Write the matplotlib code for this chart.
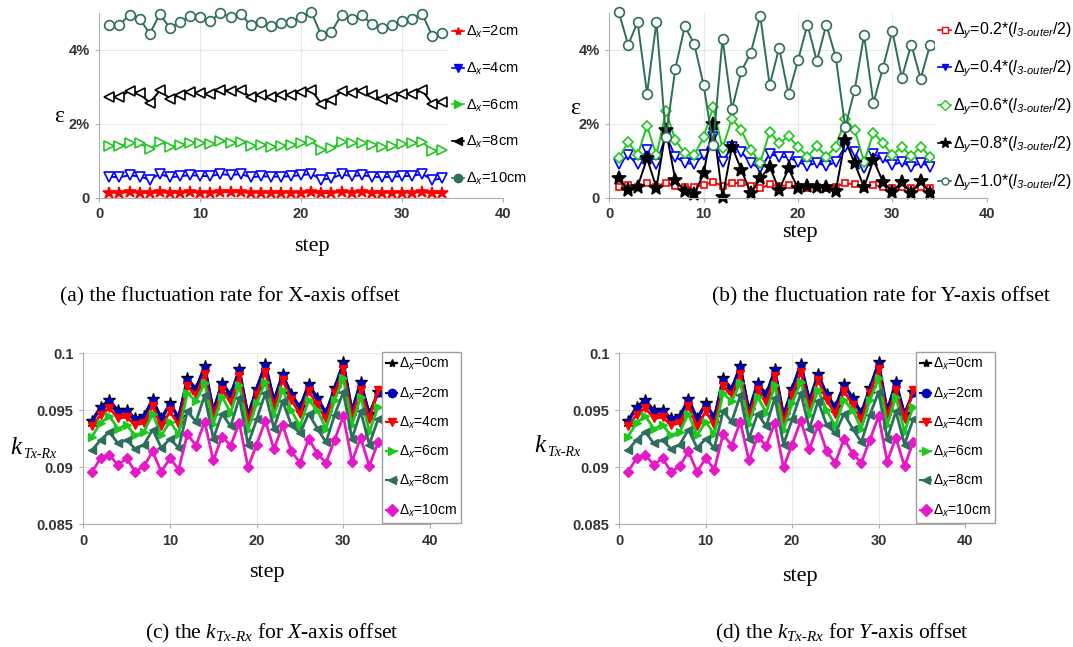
import numpy as np
import matplotlib.pyplot as plt
from matplotlib.lines import Line2D

plt.rcParams['font.family'] = 'Liberation Sans'
plt.rcParams['mathtext.fontset'] = 'custom'
plt.rcParams['mathtext.rm'] = 'Liberation Serif'
plt.rcParams['mathtext.it'] = 'Liberation Serif:italic'
plt.rcParams['mathtext.sf'] = 'Liberation Sans:italic'
plt.rcParams['mathtext.bf'] = 'Liberation Serif:bold'

W, H = 1073, 647

pasos = np.arange(1, 35)

# (a) fluctuation rate, X-axis offset (in %)
eps_x2 = [0.14, 0.13, 0.15, 0.14, 0.12, 0.15, 0.13, 0.14, 0.15, 0.14, 0.14, 0.15,
          0.15, 0.15, 0.13, 0.14, 0.13, 0.14, 0.14, 0.14, 0.15, 0.12, 0.13, 0.15,
          0.14, 0.15, 0.14, 0.13, 0.14, 0.14, 0.14, 0.15, 0.12, 0.13]
eps_x4 = [0.57, 0.55, 0.61, 0.57, 0.49, 0.64, 0.55, 0.58, 0.61, 0.59, 0.58, 0.64,
          0.61, 0.64, 0.55, 0.58, 0.57, 0.57, 0.58, 0.61, 0.64, 0.49, 0.52, 0.63,
          0.58, 0.61, 0.57, 0.55, 0.57, 0.58, 0.59, 0.64, 0.48, 0.52]
eps_x6 = [1.40, 1.40, 1.49, 1.47, 1.31, 1.51, 1.38, 1.42, 1.48, 1.47, 1.45, 1.54,
          1.49, 1.51, 1.40, 1.42, 1.38, 1.40, 1.42, 1.47, 1.54, 1.29, 1.33, 1.51,
          1.47, 1.49, 1.42, 1.38, 1.40, 1.45, 1.47, 1.51, 1.27, 1.30]
eps_x8 = [2.72, 2.72, 2.89, 2.83, 2.56, 2.90, 2.68, 2.77, 2.86, 2.83, 2.81, 2.92,
          2.89, 2.92, 2.72, 2.77, 2.71, 2.77, 2.77, 2.86, 2.92, 2.54, 2.63, 2.89,
          2.83, 2.89, 2.77, 2.68, 2.72, 2.80, 2.81, 2.90, 2.53, 2.59]
eps_x10 = [4.68, 4.67, 4.95, 4.84, 4.43, 4.97, 4.58, 4.75, 4.91, 4.88, 4.77, 5.00,
           4.88, 4.97, 4.66, 4.75, 4.63, 4.72, 4.75, 4.88, 5.02, 4.39, 4.48, 4.95,
           4.84, 4.93, 4.70, 4.59, 4.68, 4.77, 4.84, 4.97, 4.36, 4.45]

# (b) fluctuation rate, Y-axis offset (in %)
eps_y02 = [0.28, 0.34, 0.30, 0.39, 0.30, 0.41, 0.32, 0.30, 0.28, 0.34, 0.43, 0.31,
           0.40, 0.39, 0.31, 0.25, 0.36, 0.31, 0.34, 0.30, 0.25, 0.28, 0.25, 0.30,
           0.39, 0.36, 0.25, 0.34, 0.30, 0.27, 0.28, 0.25, 0.28, 0.25]
eps_y04 = [0.91, 1.15, 0.90, 1.29, 0.91, 1.69, 1.11, 0.94, 0.91, 1.15, 1.63, 0.97,
           1.38, 1.24, 0.93, 0.79, 1.18, 1.11, 1.09, 0.97, 0.86, 0.95, 0.85, 0.97,
           1.38, 1.24, 0.79, 1.18, 1.06, 0.88, 0.97, 0.82, 0.95, 0.84]
eps_y06 = [1.06, 1.51, 1.15, 1.94, 1.15, 2.34, 1.56, 1.20, 1.15, 1.64, 2.45, 1.33,
           2.14, 1.82, 1.29, 0.95, 1.78, 1.47, 1.66, 1.38, 1.11, 1.39, 1.11, 1.38,
           2.12, 1.84, 0.97, 1.76, 1.47, 1.15, 1.38, 1.12, 1.38, 1.11]
eps_y08 = [0.52, 0.21, 0.30, 1.06, 0.27, 1.82, 0.48, 0.18, 0.09, 0.66, 2.00, 0.01,
           1.38, 0.75, 0.12, 0.52, 0.84, 0.21, 0.79, 0.25, 0.31, 0.28, 0.30, 0.18,
           1.56, 0.93, 0.28, 1.02, 0.43, 0.16, 0.43, 0.13, 0.46, 0.12]
eps_y10 = [5.02, 4.13, 4.75, 2.81, 4.75, 1.64, 3.49, 4.63, 4.16, 3.04, 1.42, 4.30,
           2.39, 3.42, 3.92, 4.91, 3.04, 4.05, 2.79, 3.71, 4.68, 3.69, 4.68, 3.80,
           1.91, 2.90, 4.39, 2.56, 3.51, 4.50, 3.24, 4.14, 3.22, 4.13]

# (c)/(d) k_Tx-Rx
k_0 = [0.0941, 0.0953, 0.0959, 0.0950, 0.0950, 0.0943, 0.0945, 0.0960, 0.0943, 0.0956,
       0.0944, 0.0978, 0.0969, 0.0989, 0.0950, 0.0974, 0.0964, 0.0986, 0.0946, 0.0969,
       0.0991, 0.0959, 0.0982, 0.0964, 0.0953, 0.0973, 0.0961, 0.0948, 0.0970, 0.0992,
       0.0950, 0.0975, 0.0947, 0.0966]
k_2 = [0.0940, 0.0952, 0.0958, 0.0949, 0.0949, 0.0942, 0.0944, 0.0959, 0.0942, 0.0955,
       0.0943, 0.0977, 0.0968, 0.0988, 0.0949, 0.0973, 0.0963, 0.0985, 0.0945, 0.0968,
       0.0990, 0.0958, 0.0981, 0.0963, 0.0952, 0.0972, 0.0960, 0.0947, 0.0969, 0.0991,
       0.0949, 0.0974, 0.0946, 0.0965]
k_4 = [0.0936, 0.0946, 0.0952, 0.0943, 0.0944, 0.0937, 0.0939, 0.0954, 0.0936, 0.0949,
       0.0937, 0.0971, 0.0963, 0.0982, 0.0944, 0.0968, 0.0957, 0.0980, 0.0940, 0.0963,
       0.0984, 0.0952, 0.0977, 0.0959, 0.0947, 0.0967, 0.0955, 0.0942, 0.0965, 0.0986,
       0.0944, 0.0968, 0.0942, 0.0968]
k_6 = [0.0927, 0.0939, 0.0945, 0.0934, 0.0937, 0.0928, 0.0931, 0.0947, 0.0928, 0.0940,
       0.0929, 0.0965, 0.0958, 0.0974, 0.0938, 0.0962, 0.0948, 0.0972, 0.0933, 0.0956,
       0.0975, 0.0946, 0.0968, 0.0950, 0.0936, 0.0959, 0.0950, 0.0934, 0.0959, 0.0978,
       0.0937, 0.0962, 0.0931, 0.0953]
k_8 = [0.0915, 0.0924, 0.0931, 0.0921, 0.0924, 0.0916, 0.0920, 0.0933, 0.0917, 0.0925,
       0.0917, 0.0949, 0.0940, 0.0963, 0.0925, 0.0947, 0.0936, 0.0961, 0.0920, 0.0942,
       0.0965, 0.0934, 0.0958, 0.0937, 0.0930, 0.0947, 0.0934, 0.0922, 0.0946, 0.0966,
       0.0925, 0.0949, 0.0920, 0.0942]
k_10 = [0.0896, 0.0908, 0.0911, 0.0902, 0.0908, 0.0896, 0.0901, 0.0914, 0.0896, 0.0908,
        0.0898, 0.0929, 0.0919, 0.0940, 0.0906, 0.0927, 0.0919, 0.0939, 0.0900, 0.0920,
        0.0941, 0.0916, 0.0937, 0.0914, 0.0904, 0.0925, 0.0912, 0.0904, 0.0924, 0.0945,
        0.0905, 0.0926, 0.0901, 0.0922]

etq_x = ['Δ$_\\mathsf{x}$=2cm', 'Δ$_\\mathsf{x}$=4cm', 'Δ$_\\mathsf{x}$=6cm',
         'Δ$_\\mathsf{x}$=8cm', 'Δ$_\\mathsf{x}$=10cm']
etq_y = ['Δ$_\\mathsf{y}$=%s*($\\mathsf{l}_{\\mathsf{3‐outer}}$/2)' % f
         for f in ['0.2', '0.4', '0.6', '0.8', '1.0']]
etq_k = ['Δ$_\\mathsf{x}$=0cm', 'Δ$_\\mathsf{x}$=2cm', 'Δ$_\\mathsf{x}$=4cm',
         'Δ$_\\mathsf{x}$=6cm', 'Δ$_\\mathsf{x}$=8cm', 'Δ$_\\mathsf{x}$=10cm']

rojo, azul, verde, negro, verdeosc = '#ff0000', '#0000ff', '#1ec81e', '#000000', '#2e6e5c'
navy, magenta = '#0000b4', '#e619c8'
gris_txt = '#333333'

fig = plt.figure(figsize=(W / 100, H / 100), dpi=100)


def ejes(x0, x1, ytop, ybot):
    return fig.add_axes([x0 / W, 1 - ybot / H, (x1 - x0) / W, (ybot - ytop) / H])


def estilo(ax):
    ax.set_xlim(0, 40)
    ax.set_xticks([0, 10, 20, 30, 40])
    ax.grid(True, color='#e8e8e8', lw=0.8)
    ax.set_axisbelow(True)
    for s in ['top', 'right']:
        ax.spines[s].set_visible(False)
    for s in ['left', 'bottom']:
        ax.spines[s].set_color('#b0b0b0')
    ax.tick_params(length=3, color='#b0b0b0', labelsize=10.5, labelcolor=gris_txt, pad=4)
    for t in ax.get_xticklabels() + ax.get_yticklabels():
        t.set_fontweight('bold')


# ---------- (a)
ax1 = ejes(99.3, 503, 12.7, 197.7)
series_a = [(eps_x2, rojo, '*', 9, True), (eps_x4, azul, 'v', 7, False),
            (eps_x6, verde, '>', 7, False), (eps_x8, negro, '<', 7, False),
            (eps_x10, verdeosc, 'o', 7, False)]
hs = []
for (v, c, m, ms, lleno), et in zip(series_a, etq_x):
    ax1.plot(pasos, v, color=c, lw=1.4, marker=m, ms=ms, mew=1.2,
             mfc=c if lleno else 'white', clip_on=False)
    hs.append(Line2D([], [], color=c, lw=1.2, marker=m, ms=6, label=et))
ax1.set_ylim(0, 5)
ax1.set_yticks([0, 2, 4])
ax1.set_yticklabels(['0', '2%', '4%'])
estilo(ax1)
ax1.legend(handles=hs, loc='upper left', bbox_to_anchor=(449 / W, 1 - 21 / H),
           bbox_transform=fig.transFigure, fontsize=10.5, labelspacing=1.42,
           handlelength=0.8, handletextpad=0.15, borderpad=0.2, borderaxespad=0,
           frameon=True, facecolor='white', edgecolor='none', framealpha=1)

# ---------- (b)
ax2 = ejes(609.3, 986.7, 12.7, 197.7)
series_b = [(eps_y02, rojo, 's', 5, False), (eps_y04, azul, 'v', 7, False),
            (eps_y06, verde, 'D', 5.5, False), (eps_y08, negro, '*', 10, True),
            (eps_y10, verdeosc, 'o', 7, False)]
hs = []
for (v, c, m, ms, lleno), et in zip(series_b, etq_y):
    ax2.plot(pasos, v, color=c, lw=1.4, marker=m, ms=ms, mew=1.2,
             mfc=c if lleno else 'white', clip_on=False)
    hs.append(Line2D([], [], color=c, lw=1.2, marker=m, ms=5 if m != '*' else 8,
                     mfc=c if (lleno or m == 'v') else 'white', label=et))
ax2.set_ylim(0, 5)
ax2.set_yticks([0, 2, 4])
ax2.set_yticklabels(['0', '2%', '4%'])
estilo(ax2)
ax2.legend(handles=hs, loc='upper left', bbox_to_anchor=(935 / W, 1 - 18 / H),
           bbox_transform=fig.transFigure, fontsize=11.5, labelspacing=1.1,
           handlelength=0.8, handletextpad=0.15, borderpad=0.2, borderaxespad=0,
           frameon=True, facecolor='white', edgecolor='none', framealpha=1)

# ---------- (c) y (d)
series_k = [(k_0, negro, '*', 9), (k_2, navy, 'o', 5), (k_4, rojo, 'v', 6),
            (k_6, verde, '>', 6), (k_8, verdeosc, '<', 6), (k_10, magenta, 'D', 5)]
for x0, x1, xl in [(83.3, 430, 382), (619.3, 965, 916)]:
    ax = ejes(x0, x1, 353.3, 524.3)
    hs = []
    for (v, c, m, ms), et in zip(series_k, etq_k):
        ax.plot(pasos, v, color=c, lw=2, marker=m, ms=ms, mfc=c, mec=c)
        hs.append(Line2D([], [], color=c, lw=1.5, marker=m, ms=6, label=et))
    ax.set_ylim(0.085, 0.1)
    ax.set_yticks([0.085, 0.09, 0.095, 0.1])
    ax.set_yticklabels(['0.085', '0.09', '0.095', '0.1'])
    estilo(ax)
    ax.legend(handles=hs, loc='upper left', bbox_to_anchor=(xl / W, 1 - 352 / H),
              bbox_transform=fig.transFigure, fontsize=10, labelspacing=0.95,
              handlelength=0.8, handletextpad=0.15, borderpad=0.3, borderaxespad=0,
              frameon=True, facecolor='white', edgecolor='#a0a0a0', framealpha=1,
              fancybox=False)

# etiquetas de ejes y leyendas de las figuras
serif = 'Liberation Serif'
for x, y in [(312, 247), (800, 233), (267, 572), (800, 577)]:
    fig.text(x / W, 1 - y / H, 'step', family=serif, fontsize=16, ha='center', va='center')
for x, y in [(59, 117), (575, 109)]:
    fig.text(x / W, 1 - y / H, 'ε', family=serif, fontsize=17, ha='center', va='center')
# k_Tx-Rx: k grande y subindice pequeño
for xk, y in [(10, 448), (534, 446)]:
    fig.text(xk / W, 1 - y / H, 'k', family=serif, style='italic', fontsize=18,
             ha='left', va='center')
    fig.text((xk + 13) / W, 1 - (y + 6) / H, 'Tx-Rx', family=serif, style='italic',
             fontsize=10, ha='left', va='center')

fig.text(230 / W, 1 - 297 / H, '(a) the fluctuation rate for X-axis offset',
         family=serif, fontsize=15.5, ha='center', va='center')
fig.text(881 / W, 1 - 297 / H, '(b) the fluctuation rate for Y-axis offset',
         family=serif, fontsize=15.5, ha='center', va='center')
fig.text(272 / W, 1 - 633 / H, '(c) the $k_{Tx‐Rx}$ for $X$-axis offset',
         family=serif, fontsize=15.5, ha='center', va='center')
fig.text(842 / W, 1 - 633 / H, '(d) the $k_{Tx‐Rx}$ for $Y$-axis offset',
         family=serif, fontsize=15.5, ha='center', va='center')

fig.savefig('out.png', dpi=100)
